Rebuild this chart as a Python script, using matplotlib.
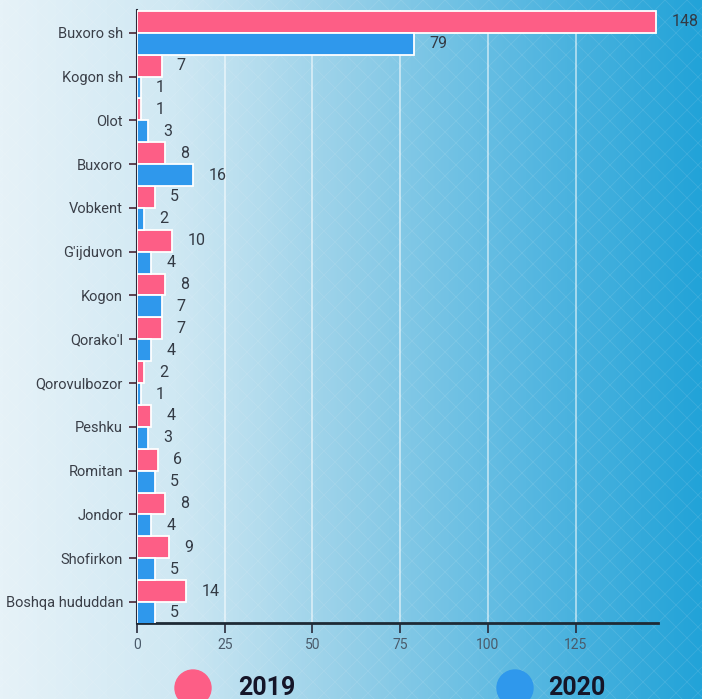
import numpy as np
import matplotlib
matplotlib.use("Agg")
import matplotlib.pyplot as plt
from matplotlib.colors import LinearSegmentedColormap
from matplotlib.patches import Ellipse

plt.rcParams['font.family'] = ['Roboto', 'DejaVu Sans']

categories = ["Buxoro sh", "Kogon sh", "Olot", "Buxoro", "Vobkent", "G'ijduvon", "Kogon",
              "Qorako'l", "Qorovulbozor", "Peshku", "Romitan", "Jondor", "Shofirkon",
              "Boshqa hududdan"]
v2019 = [148, 7, 1, 8, 5, 10, 8, 7, 2, 4, 6, 8, 9, 14]
v2020 = [79, 1, 3, 16, 2, 4, 7, 4, 1, 3, 5, 4, 5, 5]
xticks = [0, 25, 50, 75, 100, 125]
legend_labels = ["2019", "2020"]

pink = "#fd5e86"
blue = "#2f98ec"
W, H = 702, 699
fig = plt.figure(figsize=(W / 100, H / 100), dpi=100)

# background gradient
bg = fig.add_axes([0, 0, 1, 1])
bg.set_xlim(0, W)
bg.set_ylim(H, 0)
bg.axis("off")
cmap = LinearSegmentedColormap.from_list("bgc", ["#e6f2f8", "#cfe8f3", "#94cfe8", "#58b8e1", "#22a3d8"])
grad = np.linspace(0, 1, 400)[None, :]
grad = np.repeat(grad, 10, axis=0)
bg.imshow(grad, cmap=cmap, extent=[0, W, H, 0], aspect="auto", zorder=0)
# subtle diamond pattern
for c in np.arange(-H, W + H, 22):
    bg.plot([c, c + H], [0, H], color="white", lw=0.6, alpha=0.10, zorder=1)
    bg.plot([c, c - H], [0, H], color="white", lw=0.6, alpha=0.10, zorder=1)

# legend circles and text
for (cx, col, tx, lab) in [(193, pink, 238, legend_labels[0]), (515, blue, 548, legend_labels[1])]:
    bg.add_patch(Ellipse((cx, 688), 36, 36, color=col, zorder=3))
    bg.text(tx, 688, lab, fontsize=18, fontweight="bold", color="#151528",
            va="center", ha="left", zorder=3)

ax = fig.add_axes([137 / W, 1 - 623 / H, 521 / W, (623 - 10) / H])
ax.set_facecolor("none")
y = np.arange(len(categories))
h = 0.5
ax.barh(y - h / 2, v2019, height=h, color=pink, edgecolor="white", linewidth=1.3, zorder=3)
ax.barh(y + h / 2, v2020, height=h, color=blue, edgecolor="white", linewidth=1.3, zorder=3)

for yi, a, b in zip(y, v2019, v2020):
    ax.annotate(str(a), (a, yi - h / 2), xytext=(11, 0), textcoords="offset points",
                va="center", ha="left", fontsize=11.5, color="#333a44", zorder=5,
                annotation_clip=False)
    ax.annotate(str(b), (b, yi + h / 2), xytext=(11, 0), textcoords="offset points",
                va="center", ha="left", fontsize=11.5, color="#333a44", zorder=5,
                annotation_clip=False)

ax.set_xlim(0, 148.5)
ax.set_ylim(len(categories) - 0.52, -0.52)
ax.set_yticks(y)
ax.set_yticklabels(categories, fontsize=10.5, color="#3a3f48")
ax.set_xticks(xticks)
ax.set_xticklabels([str(t) for t in xticks], fontsize=10, color="#4a5a6a")
ax.tick_params(axis="y", length=6, width=1.2, color="#4a2535", pad=4)
ax.tick_params(axis="x", length=7, width=1.2, color="#2a2a3a", pad=4)
ax.xaxis.grid(True, color="white", alpha=0.6, lw=1.2, zorder=0)
ax.set_axisbelow(True)
for s in ["top", "right"]:
    ax.spines[s].set_visible(False)
ax.spines["left"].set_color("#2a2a3a")
ax.spines["left"].set_linewidth(1.5)
ax.spines["bottom"].set_color("#1e2a35")
ax.spines["bottom"].set_linewidth(2)

fig.savefig("out.png", dpi=100)
